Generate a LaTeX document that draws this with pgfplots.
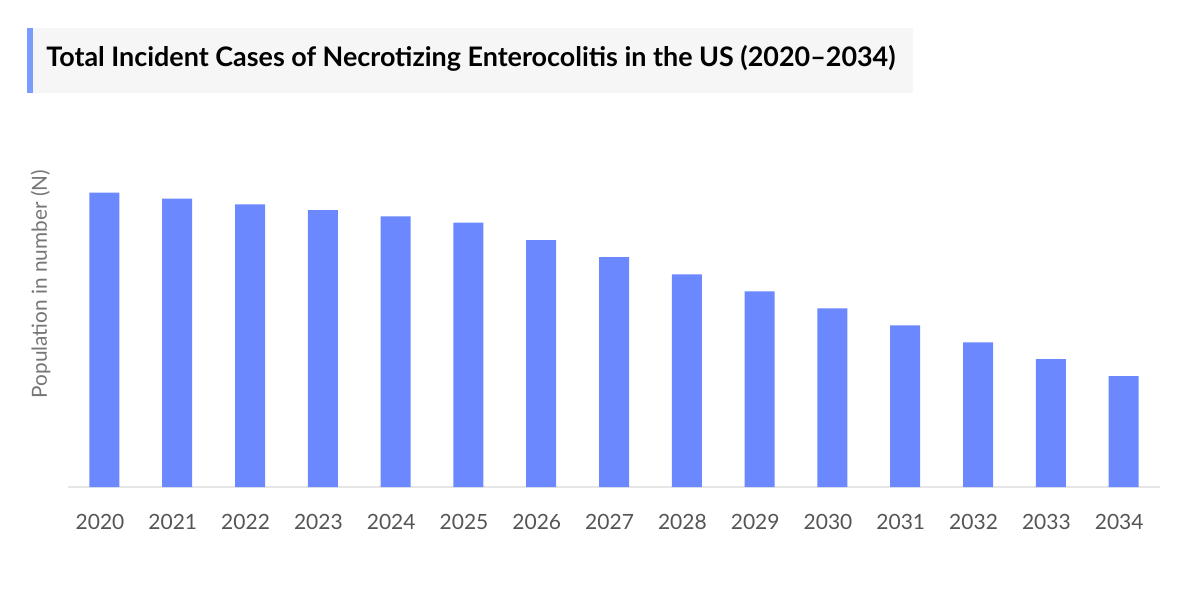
\documentclass[border=0pt]{standalone}
\usepackage{fontspec}
\setmainfont{Lato}
\usepackage{pgfplots}
\pgfplotsset{compat=1.18}

\definecolor{barblue}{HTML}{6B88FF}
\definecolor{accent}{HTML}{7A9CFF}
\definecolor{titlebg}{HTML}{F6F6F6}
\definecolor{ticktext}{HTML}{555555}
\definecolor{labeltext}{HTML}{767676}
\definecolor{baseline}{HTML}{E6E6E6}

\begin{document}
\begin{tikzpicture}
  % canvas: 1 px = 0.5pt, y downwards in the scope
  \path[use as bounding box, fill=white] (0,0) rectangle (600pt,-303pt);
  \begin{scope}[x=0.5pt,y=-0.5pt]
    \fill[titlebg] (27.3,28) rectangle (912.7,92.7);
    \fill[accent] (27.3,28) rectangle (33.3,92.7);
    \node[anchor=base west, inner sep=0pt, font=\bfseries\fontsize{13.45pt}{15pt}\selectfont]
      at (46,66.5) {Total Incident Cases of Necrotizing Enterocolitis in the US (2020–2034)};
  \end{scope}

  \begin{axis}[
      at={(34pt,-243.5pt)}, anchor=south west,
      width=546pt, height=168.5pt, scale only axis,
      xmin=-0.5, xmax=14.5, ymin=0, ymax=337,
      axis x line*=bottom,
      axis y line*=left,
      x axis line style={draw=baseline, line width=1pt},
      y axis line style={draw=none},
      ytick=\empty,
      ybar, bar width=15pt,
      xtick=data,
      xticklabels={2020,2021,2022,2023,2024,2025,2026,2027,2028,2029,2030,2031,2032,2033,2034},
      major tick length=0pt,
      /pgf/number format/assume math mode=true,
      xticklabel style={anchor=base, yshift=-21pt, xshift=-2.2pt, inner sep=0pt,
        text=ticktext, font=\fontsize{10.5pt}{12pt}\selectfont},
      ylabel={Population in number (N)},
      ylabel style={at={(axis description cs:0,0.602)}, anchor=base, yshift=10.5pt,
        inner sep=0pt, text=labeltext, font=\fontsize{10.4pt}{12pt}\selectfont},
      clip=false,
    ]
    \addplot[fill=barblue, draw=none] coordinates {
      (0,294.3) (1,288.3) (2,282.7) (3,277) (4,270.7) (5,264.3) (6,247)
      (7,230) (8,212.7) (9,195.7) (10,178.7) (11,161.7) (12,144.7) (13,128) (14,111)
    };
  \end{axis}
\end{tikzpicture}
\end{document}
